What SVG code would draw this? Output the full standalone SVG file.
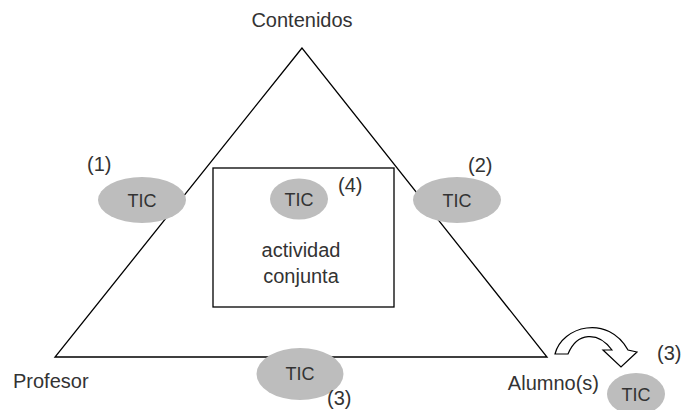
<svg xmlns="http://www.w3.org/2000/svg" width="681" height="410" viewBox="0 0 681 410">
<style>
.t{font-family:"Liberation Sans",Arial,sans-serif;font-size:20px;fill:#333}
.tic{font-family:"Liberation Sans",Arial,sans-serif;font-size:18px;fill:#333;text-anchor:middle}
.e{fill:#bdbdbd;stroke:none}
.ln{fill:none;stroke:#000;stroke-width:1.3}
</style>
<rect width="681" height="410" fill="#fff"/>
<g id="connectors">
<polygon class="ln" points="302,48 55,357 547,357"/>
<path d="M555,354 C562,326 608,314 628,350 L637,352 L621,367 L603,350 L612,350 C598,331 577,332 568,354 Z" fill="#fff" stroke="#000" stroke-width="1.2"/>
</g>
<g id="contenidos"><text class="t" x="302" y="27" text-anchor="middle">Contenidos</text></g>
<g id="profesor"><text class="t" x="13" y="388">Profesor</text></g>
<g id="alumnos"><text class="t" x="599" y="390" text-anchor="end">Alumno(s)</text></g>
<g id="actividad">
<rect x="213" y="168" width="181" height="139" fill="#fff" stroke="#000" stroke-width="1.3"/>
<text class="t" x="301" y="257" text-anchor="middle">actividad</text>
<text class="t" x="301" y="283" text-anchor="middle">conjunta</text>
</g>
<g id="tic1"><ellipse class="e" cx="142" cy="200" rx="44" ry="23"/><text class="tic" x="142" y="206.5">TIC</text><text class="t" x="87" y="171">(1)</text></g>
<g id="tic2"><ellipse class="e" cx="457" cy="200" rx="44" ry="23"/><text class="tic" x="457" y="206.5">TIC</text><text class="t" x="468" y="172">(2)</text></g>
<g id="tic4"><ellipse class="e" cx="299" cy="199" rx="29" ry="20.5"/><text class="tic" x="299" y="205.5">TIC</text><text class="t" x="338" y="192">(4)</text></g>
<g id="tic3"><ellipse class="e" cx="300" cy="374" rx="43.5" ry="26"/><text class="tic" x="300" y="380">TIC</text><text class="t" x="327" y="405">(3)</text></g>
<g id="tic3b"><ellipse class="e" cx="636" cy="394" rx="29" ry="21"/><text class="tic" x="636" y="400.5">TIC</text><text class="t" x="657" y="360">(3)</text></g>
</svg>
